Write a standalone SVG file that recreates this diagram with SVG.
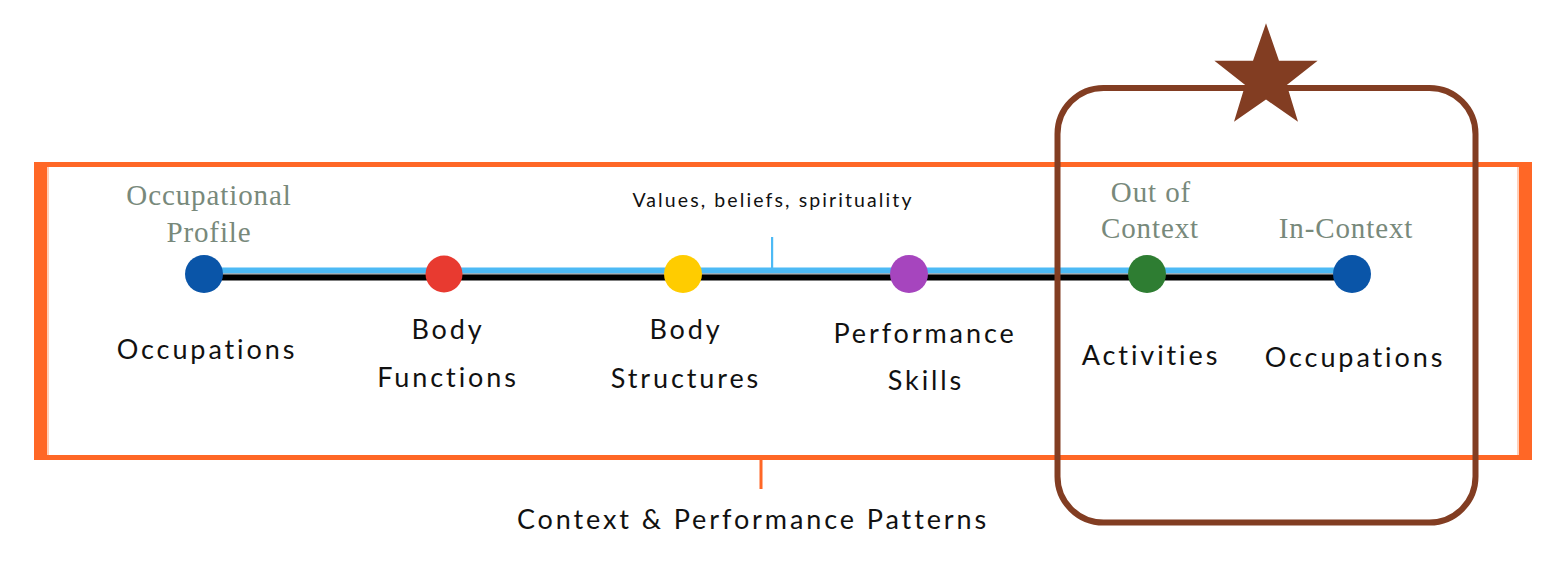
<svg xmlns="http://www.w3.org/2000/svg" width="1544" height="570" viewBox="0 0 1544 570">
  <style>
    .lbl { font-family: Lato, "Open Sans", sans-serif; font-size: 27px; fill: #111; text-anchor: middle; letter-spacing: 2.9px; }
    .small { font-family: Lato, "Open Sans", sans-serif; font-size: 19.5px; fill: #111; text-anchor: middle; letter-spacing: 2.1px; }
    .ser { font-family: "Liberation Serif", "Times New Roman", serif; font-size: 29px; fill: #78897b; text-anchor: middle; letter-spacing: 0.9px; }
    .orange { fill: #ff6726; }
  </style>
  <rect width="1544" height="570" fill="#ffffff"/>

  <!-- context frame -->
  <g id="context-frame">
    <rect class="orange" x="34" y="162" width="1498" height="5"/>
    <rect class="orange" x="34" y="455" width="1498" height="5"/>
    <rect class="orange" x="34" y="162" width="13" height="298"/>
    <rect class="orange" x="1519" y="162" width="13" height="298"/>
    <rect x="47" y="167" width="2" height="288" fill="#ffd0bb"/>
    <rect x="1517" y="167" width="2" height="288" fill="#ffd0bb"/>
    <rect class="orange" x="759.5" y="460" width="3" height="29"/>
    <text class="lbl" x="753" y="529">Context &amp; Performance Patterns</text>
  </g>

  <!-- connectors / timeline -->
  <g id="connectors">
    <rect x="204" y="267.5" width="1148" height="6" fill="#4dbaf5"/>
    <rect x="204" y="273.5" width="1148" height="1" fill="#8a8a8a"/>
    <rect x="204" y="274.5" width="1148" height="6" fill="#000000"/>
    <rect x="771" y="237" width="2.2" height="31" fill="#4dbaf5"/>
    <text class="small" x="773" y="207">Values, beliefs, spirituality</text>
  </g>

  <g id="node-occupations-1">
    <circle cx="204" cy="274" r="19" fill="#0a55a8"/>
    <text class="ser" x="209" y="205">Occupational</text>
    <text class="ser" x="209" y="242">Profile</text>
    <text class="lbl" x="207" y="359">Occupations</text>
  </g>
  <g id="node-body-functions">
    <circle cx="444" cy="274" r="18.5" fill="#e83a30"/>
    <text class="lbl" x="448" y="339">Body</text>
    <text class="lbl" x="448" y="387">Functions</text>
  </g>
  <g id="node-body-structures">
    <circle cx="683" cy="274" r="19" fill="#ffcc00"/>
    <text class="lbl" x="686" y="339">Body</text>
    <text class="lbl" x="686" y="388">Structures</text>
  </g>
  <g id="node-performance-skills">
    <circle cx="909" cy="274" r="19" fill="#a645be"/>
    <text class="lbl" x="925" y="343">Performance</text>
    <text class="lbl" x="926" y="390">Skills</text>
  </g>
  <g id="node-activities">
    <circle cx="1147" cy="274" r="19" fill="#2e7d32"/>
    <text class="ser" x="1151" y="202">Out of</text>
    <text class="ser" x="1150" y="238">Context</text>
    <text class="lbl" x="1151" y="365">Activities</text>
  </g>
  <g id="node-occupations-2">
    <circle cx="1352" cy="274" r="19" fill="#0a55a8"/>
    <text class="ser" x="1346" y="238">In-Context</text>
    <text class="lbl" x="1355" y="367">Occupations</text>
  </g>

  <!-- highlight box -->
  <g id="highlight">
    <rect x="1057.5" y="88" width="418" height="434.5" rx="46" ry="46" fill="none" stroke="#823d22" stroke-width="6"/>
    <polygon fill="#823d22" points="1266,23.3 1279,60.8 1317.6,60.8 1286.8,85 1298,121.7 1266,99.5 1234,121.7 1245.2,85 1214.4,60.8 1253,60.8"/>
  </g>
</svg>
